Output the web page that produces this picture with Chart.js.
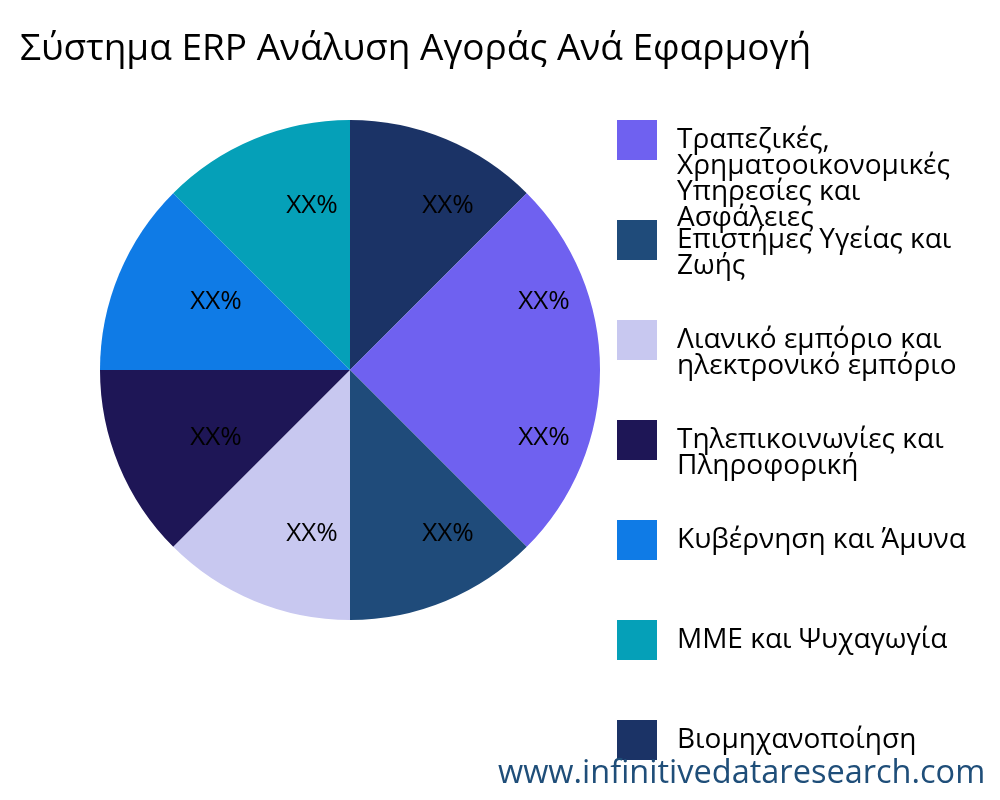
<!DOCTYPE html>
<html><head><meta charset="utf-8">
<script src="https://cdn.jsdelivr.net/npm/chart.js@4/dist/chart.umd.min.js"></script>
<style>
body{margin:0;width:1000px;height:800px;overflow:hidden;background:#fff;font-family:"Open Sans","Noto Sans",sans-serif;position:relative}
#title{position:absolute;left:20px;top:20px;font-size:37px;color:#000;white-space:nowrap}
#wrap{position:absolute;left:0;top:0;width:1000px;height:800px}
#legend{position:absolute;left:617px;top:120px;width:400px}
.item{display:flex;align-items:flex-start;height:100px;font-size:28px;line-height:26px;color:#000}
.item .t{width:318px;margin-top:4px}
.box{width:40px;height:40px;flex:none;margin-right:20px}
#wm{position:absolute;left:498px;top:748px;font-size:32.5px;color:#1f4e79;white-space:nowrap}
</style></head><body>
<div id="wrap"><canvas id="c" width="1000" height="800"></canvas></div>
<div id="title">Σύστημα ERP Ανάλυση Αγοράς Ανά Εφαρμογή</div>
<div id="legend"></div>
<div id="wm">www.infinitivedataresearch.com</div>
<script>
const categories=["Τραπεζικές, Χρηματοοικονομικές Υπηρεσίες και Ασφάλειες","Επιστήμες Υγείας και Ζωής","Λιανικό εμπόριο και ηλεκτρονικό εμπόριο","Τηλεπικοινωνίες και Πληροφορική","Κυβέρνηση και Άμυνα","ΜΜΕ και Ψυχαγωγία","Βιομηχανοποίηση","Άλλα"];
const values=[12.5,12.5,12.5,12.5,12.5,12.5,12.5,12.5];
const labels=["XX%","XX%","XX%","XX%","XX%","XX%","XX%","XX%"];
const colors=["#6f61f0","#1f4b7a","#c8c8f0","#1e1656","#0f7be6","#05a0b8","#1b3366","#6f61f0"];
const lg=document.getElementById('legend');
categories.slice(0,7).forEach((c,i)=>{const d=document.createElement('div');d.className='item';d.innerHTML='<div class="box" style="background:'+colors[i]+'"></div><div class="t">'+c+'</div>';lg.appendChild(d);});
const lblPlugin={id:'lbl',afterDatasetsDraw(ch){const ctx=ch.ctx;ch.getDatasetMeta(0).data.forEach((a,i)=>{const m=(a.startAngle+a.endAngle)/2;const r=a.outerRadius*0.71;ctx.save();ctx.font='26px "Open Sans",sans-serif';ctx.fillStyle='#000';ctx.textAlign='center';ctx.textBaseline='middle';ctx.fillText(labels[i],a.x+30+Math.cos(m)*r,a.y+Math.sin(m)*r);ctx.restore();});}};
new Chart(document.getElementById('c'),{type:'pie',data:{labels:categories,datasets:[{data:values,backgroundColor:colors,borderWidth:0}]},
options:{responsive:false,animation:false,rotation:90,layout:{padding:{left:100,right:400,top:120,bottom:180}},plugins:{legend:{display:false},tooltip:{enabled:false}}},plugins:[lblPlugin]});
</script></body></html>
